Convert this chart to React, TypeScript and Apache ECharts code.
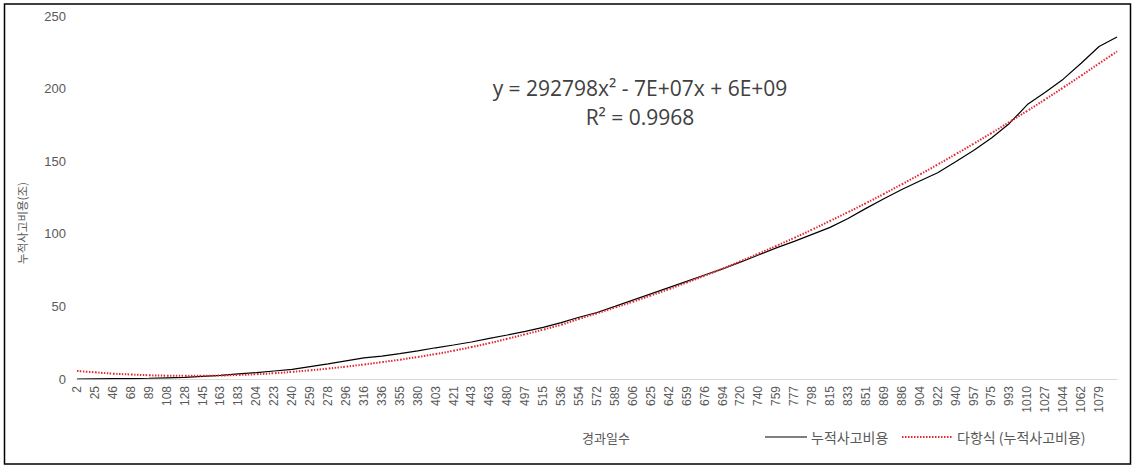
import React, { useEffect, useRef } from "react";
import * as echarts from "echarts";

const dayLabels = [
  "2", "25", "46", "68", "89", "108", "128", "145", "163", "183",
  "204", "223", "240", "259", "278", "296", "316", "336", "355", "380",
  "403", "421", "443", "463", "480", "497", "515", "536", "554", "572",
  "589", "606", "625", "642", "659", "676", "694", "720", "740", "759",
  "777", "798", "815", "833", "851", "869", "886", "904", "922", "940",
  "957", "975", "993", "1010", "1027", "1044", "1062", "1079", "1097",
];

// 누적사고비용 (조)
const cumulativeCost = [
  0.0, 0.1, 0.2, 0.3, 0.5, 0.8, 1.1, 1.8, 2.5, 3.5,
  4.4, 5.5, 6.6, 8.5, 10.4, 12.5, 14.6, 15.8, 17.5, 19.4,
  21.5, 23.4, 25.5, 28.0, 30.3, 32.8, 35.5, 38.8, 42.5, 45.8,
  50.0, 54.3, 58.6, 62.9, 67.2, 71.6, 75.8, 80.5, 85.4, 90.3,
  94.8, 99.6, 104.4, 110.5, 117.5, 124.2, 130.5, 136.4, 142.0, 149.6,
  157.4, 166.0, 176.0, 189.0, 197.5, 206.5, 217.5, 229.0, 235.5,
];

// 다항식 추세선 (조)
const trendCost = [
  5.5, 4.6, 3.7, 3.1, 2.6, 2.3, 2.2, 2.2, 2.4, 2.8,
  3.3, 4.0, 4.9, 6.0, 7.2, 8.5, 10.0, 11.6, 13.3, 15.2,
  17.2, 19.5, 22.0, 24.7, 27.7, 30.8, 34.0, 37.4, 41.4, 45.2,
  49.2, 53.2, 57.5, 61.8, 66.4, 71.1, 76.0, 81.1, 86.3, 91.7,
  97.2, 102.9, 108.9, 114.9, 121.1, 127.5, 134.1, 140.8, 147.7, 154.8,
  162.0, 169.4, 177.0, 184.7, 192.6, 200.7, 208.9, 217.3, 225.6,
];

const yTicks = { min: 0, max: 250, interval: 50 };
const equationText = "y = 292798x² - 7E+07x + 6E+09";
const r2Text = "R² = 0.9968";
const seriesNames = ["누적사고비용", "다항식 (누적사고비용)"];
const xTitle = "경과일수";
const yTitle = "누적사고비용(조)";

const KR = "'Noto Sans CJK KR', 'Noto Sans', sans-serif";
const NUM = "'Liberation Sans', Arial, sans-serif";
const GRAY = "#595959";
const BLACK_LINE = "#000000";
const RED_LINE = "#e3262f";
const RED_DASH = [1.5, 1.5];

export default function App() {
  const ref = useRef<HTMLDivElement>(null);

  useEffect(() => {
    if (!ref.current) return;
    const chart = echarts.init(ref.current, null, { renderer: "svg" });
    chart.setOption({
      animation: false,
      backgroundColor: "#ffffff",
      grid: { left: 77, right: 16, top: 16, bottom: 87 },
      xAxis: {
        type: "category",
        data: dayLabels,
        boundaryGap: false,
        axisLine: { lineStyle: { color: "#d9d9d9", width: 1 } },
        axisTick: { show: false },
        axisLabel: {
          rotate: 90,
          interval: (idx: number) => idx < dayLabels.length - 1,
          margin: 7,
          fontSize: 12,
          fontFamily: NUM,
          color: GRAY,
        },
        splitLine: { show: false },
      },
      yAxis: {
        type: "value",
        min: yTicks.min,
        max: yTicks.max,
        interval: yTicks.interval,
        axisLine: { show: false },
        axisTick: { show: false },
        splitLine: { show: false },
        axisLabel: { margin: 11, fontSize: 13, fontFamily: NUM, color: GRAY },
      },
      series: [
        {
          name: seriesNames[0],
          type: "line",
          data: cumulativeCost,
          symbol: "none",
          lineStyle: { color: BLACK_LINE, width: 1.2 },
          itemStyle: { color: BLACK_LINE },
        },
        {
          name: seriesNames[1],
          type: "line",
          data: trendCost,
          symbol: "none",
          smooth: true,
          lineStyle: { color: RED_LINE, width: 2, type: RED_DASH },
          itemStyle: { color: RED_LINE },
        },
      ],
      graphic: [
        {
          type: "rect",
          shape: { x: 4.5, y: 4, width: 1126, height: 460 },
          style: { fill: "none", stroke: "#000000", lineWidth: 1.5 },
          silent: true,
        },
        {
          type: "text",
          x: 640,
          y: 88,
          style: {
            text: equationText,
            fontSize: 21,
            fontFamily: "'Open Sans', sans-serif",
            fill: "#404040",
            align: "center",
            verticalAlign: "middle",
          },
        },
        {
          type: "text",
          x: 640,
          y: 117,
          style: {
            text: r2Text,
            fontSize: 21,
            fontFamily: "'Open Sans', sans-serif",
            fill: "#404040",
            align: "center",
            verticalAlign: "middle",
          },
        },
        {
          type: "text",
          x: 606,
          y: 437,
          style: {
            text: xTitle,
            fontSize: 13,
            fontFamily: KR,
            fill: GRAY,
            align: "center",
            verticalAlign: "middle",
          },
        },
        {
          type: "text",
          x: 22,
          y: 223,
          rotation: Math.PI / 2,
          style: {
            text: yTitle,
            fontSize: 11.5,
            fontFamily: KR,
            fill: GRAY,
            align: "center",
            verticalAlign: "middle",
          },
        },
        // legend
        {
          type: "line",
          shape: { x1: 765, y1: 437, x2: 807, y2: 437 },
          style: { stroke: BLACK_LINE, lineWidth: 1.2 },
        },
        {
          type: "text",
          x: 811,
          y: 437,
          style: {
            text: seriesNames[0],
            fontSize: 14,
            fontFamily: KR,
            fill: GRAY,
            align: "left",
            verticalAlign: "middle",
          },
        },
        {
          type: "line",
          shape: { x1: 902, y1: 437, x2: 952, y2: 437 },
          style: { stroke: RED_LINE, lineWidth: 2, lineDash: RED_DASH },
        },
        {
          type: "text",
          x: 957,
          y: 437,
          style: {
            text: seriesNames[1],
            fontSize: 14,
            fontFamily: KR,
            fill: GRAY,
            align: "left",
            verticalAlign: "middle",
          },
        },
      ],
    });
    return () => chart.dispose();
  }, []);

  return (
    <div
      ref={ref}
      style={{ position: "absolute", left: 0, top: 0, width: 1133, height: 466, background: "#fff" }}
    />
  );
}
